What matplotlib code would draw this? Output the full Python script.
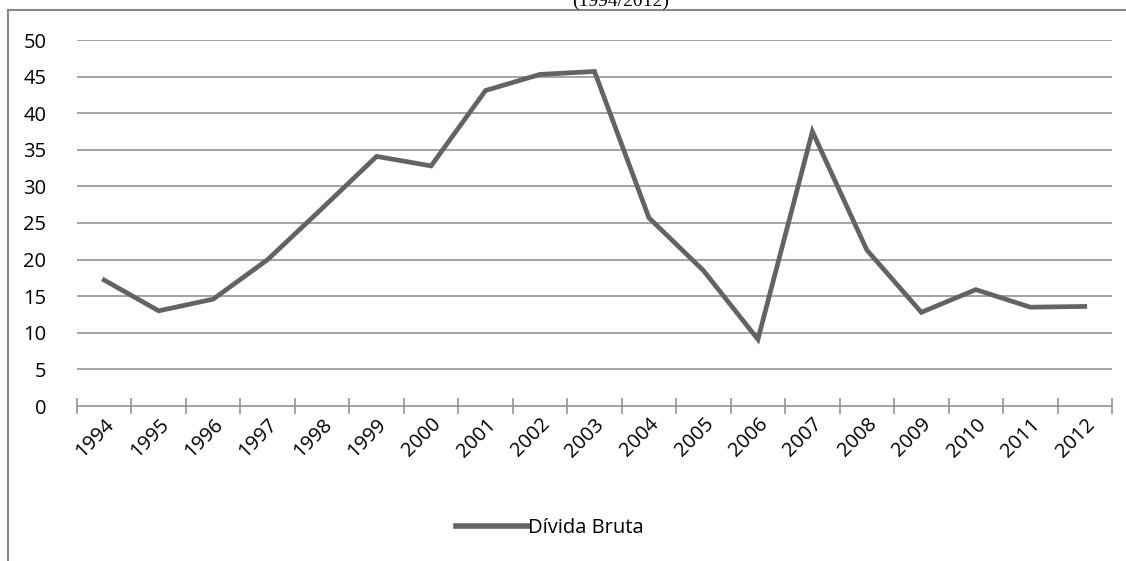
import matplotlib.pyplot as plt
from matplotlib.lines import Line2D
import numpy as np

plt.rcParams['font.family'] = ['Open Sans', 'DejaVu Sans']

anos = ["1994", "1995", "1996", "1997", "1998", "1999", "2000", "2001", "2002", "2003",
        "2004", "2005", "2006", "2007", "2008", "2009", "2010", "2011", "2012"]
divida_bruta = [17.2, 13.0, 14.6, 20.0, 27.0, 34.1, 32.8, 43.1, 45.3, 45.7,
                25.7, 18.5, 9.1, 37.5, 21.3, 12.8, 15.9, 13.5, 13.6]
y_ticks = [0, 5, 10, 15, 20, 25, 30, 35, 40, 45, 50]

fig = plt.figure(figsize=(11.26, 5.61), dpi=100)
ax = fig.add_axes([77 / 1126, 1 - 406 / 561, (1112 - 77) / 1126, (406 - 40) / 561])

x = np.arange(len(anos))
ax.plot(x, divida_bruta, color="#636363", linewidth=3.4, label="Dívida Bruta",
        solid_joinstyle="miter", zorder=3)

ax.set_xlim(-0.5, len(anos) - 0.5)
ax.set_ylim(0, 50)
ax.set_yticks(y_ticks)
ax.set_yticklabels([str(v) for v in y_ticks], fontsize=14.5)
ax.tick_params(axis="y", length=0, pad=22)
for v in y_ticks[1:]:
    ax.axhline(v, color="#8a8a8a", linewidth=1.1, zorder=1)

# ticks nas fronteiras, rótulos no centro
ax.set_xticks(np.arange(len(anos) + 1) - 0.5)
ax.set_xticklabels([])
ax.tick_params(axis="x", which="major", direction="inout", length=11, color="#8a8a8a", width=1.1)
ax.set_xticks(x, minor=True)
ax.set_xticklabels(anos, minor=True, rotation=45, ha="right", va="top",
                   rotation_mode="anchor", fontsize=14.5)
ax.tick_params(axis="x", which="minor", length=0, pad=6)
for lbl in ax.get_xticklabels(minor=True):
    lbl.set_x(lbl.get_position()[0])

for s in ["top", "right", "left"]:
    ax.spines[s].set_visible(False)
ax.spines["bottom"].set_color("#8a8a8a")
ax.spines["bottom"].set_linewidth(1.1)

leg = ax.legend(loc="center", bbox_to_anchor=(550 / 1126, 1 - 528 / 561),
                bbox_transform=fig.transFigure, frameon=False, fontsize=14.5,
                handlelength=3.6, handletextpad=0.0)
leg.get_lines()[0].set_linewidth(4)

# moldura do gráfico
fig.add_artist(Line2D([8 / 1126, 8 / 1126], [0, 1 - 9.5 / 561], color="#8a8a8a", linewidth=1.5))
fig.add_artist(Line2D([8 / 1126, 1], [1 - 9.5 / 561, 1 - 9.5 / 561], color="#8a8a8a", linewidth=1.5))
fig.text(621 / 1126, 1 - 1.5 / 561, "(1994/2012)", ha="center", va="center",
         fontsize=14, family="Liberation Serif")

fig.savefig("out.png", dpi=100)
